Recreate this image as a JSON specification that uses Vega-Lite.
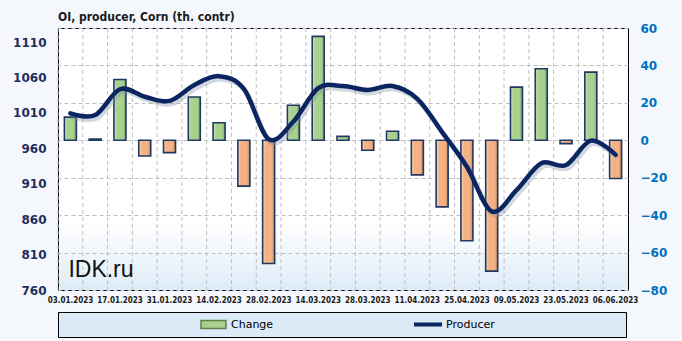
{
  "$schema": "https://vega.github.io/schema/vega-lite/v6.json",
  "width": 570,
  "height": 262,
  "autosize": {"type": "none"},
  "padding": {"left": 58, "top": 28, "right": 54, "bottom": 51},
  "background": "#F4F8FD",
  "title": {
    "text": "OI,  producer, Corn (th. contr)",
    "anchor": "start",
    "frame": "group",
    "font": "DejaVu Sans Condensed",
    "fontSize": 12,
    "fontWeight": "bold",
    "color": "#1a1a1a",
    "offset": -2
  },
  "data": {
    "values": [
      {"date": "03.01.2023", "change": 12.4, "producer": 1009.5},
      {"date": "10.01.2023", "change": 0.6, "producer": 1007},
      {"date": "17.01.2023", "change": 32.5, "producer": 1043.5},
      {"date": "24.01.2023", "change": -8.4, "producer": 1033},
      {"date": "31.01.2023", "change": -6.6, "producer": 1027},
      {"date": "07.02.2023", "change": 23.1, "producer": 1049.5},
      {"date": "14.02.2023", "change": 9.4, "producer": 1062},
      {"date": "21.02.2023", "change": -24.5, "producer": 1044},
      {"date": "28.02.2023", "change": -65.8, "producer": 973},
      {"date": "07.03.2023", "change": 18.7, "producer": 998},
      {"date": "14.03.2023", "change": 55.5, "producer": 1045},
      {"date": "21.03.2023", "change": 2.1, "producer": 1048},
      {"date": "28.03.2023", "change": -5.3, "producer": 1042.5},
      {"date": "04.04.2023", "change": 4.8, "producer": 1048},
      {"date": "11.04.2023", "change": -18.5, "producer": 1030},
      {"date": "18.04.2023", "change": -35.6, "producer": 983},
      {"date": "25.04.2023", "change": -53.7, "producer": 934},
      {"date": "02.05.2023", "change": -69.9, "producer": 871},
      {"date": "09.05.2023", "change": 28.4, "producer": 901},
      {"date": "16.05.2023", "change": 38.2, "producer": 939},
      {"date": "23.05.2023", "change": -1.8, "producer": 936.5},
      {"date": "30.05.2023", "change": 36.4, "producer": 971},
      {"date": "06.06.2023", "change": -20.4, "producer": 951}
    ]
  },
  "layer": [
    {
      "mark": {"type": "rule", "strokeDash": [4, 3], "color": "#BFBFBF", "strokeWidth": 1},
      "encoding": {
        "x": {
          "field": "date",
          "type": "nominal",
          "sort": null,
          "bandPosition": 0,
          "scale": {"paddingInner": 0, "paddingOuter": 0},
          "axis": {
            "title": null,
            "values": ["03.01.2023", "17.01.2023", "31.01.2023", "14.02.2023", "28.02.2023", "14.03.2023", "28.03.2023", "11.04.2023", "25.04.2023", "09.05.2023", "23.05.2023", "06.06.2023"],
            "labelAngle": 0,
            "ticks": false,
            "domain": false,
            "grid": false,
            "labelFont": "DejaVu Sans Condensed",
            "labelFontWeight": "bold",
            "labelFontSize": 8,
            "labelColor": "#1a1a1a",
            "labelPadding": 6,
            "labelOverlap": false,
            "labelBound": false
          }
        }
      }
    },
    {
      "layer": [
        {
          "mark": {"type": "bar", "size": 12, "stroke": "#1F3864", "strokeWidth": 1.6},
          "encoding": {
            "x": {"field": "date", "type": "nominal", "sort": null},
            "y": {
              "field": "change",
              "type": "quantitative",
              "scale": {"domain": [-80, 60], "nice": false, "zero": true},
              "axis": {
                "orient": "right",
                "title": null,
                "values": [-80, -60, -40, -20, 0, 20, 40, 60],
                "tickCount": 10,
                "format": "d",
                "labelOverlap": false,
                "ticks": false,
                "domain": false,
                "grid": true,
                "gridDash": [4, 3],
                "gridColor": "#BFBFBF",
                "labelFont": "DejaVu Sans",
                "labelFontWeight": "bold",
                "labelFontSize": 12,
                "labelColor": "#0070C0",
                "labelPadding": 12
              }
            },
            "fill": {
              "datum": "Change",
              "type": "nominal",
              "scale": {"domain": ["Change"], "range": ["#A9D18E"]},
              "condition": [
                {
                  "test": "datum.change < 0",
                  "value": {
                    "gradient": "linear", "x1": 0, "y1": 0, "x2": 1, "y2": 0,
                    "stops": [
                      {"offset": 0, "color": "#FDDCC4"},
                      {"offset": 0.25, "color": "#F4B183"},
                      {"offset": 0.75, "color": "#F4B183"},
                      {"offset": 1, "color": "#C4865A"}
                    ]
                  }
                },
                {
                  "test": "datum.change >= 0",
                  "value": {
                    "gradient": "linear", "x1": 0, "y1": 0, "x2": 1, "y2": 0,
                    "stops": [
                      {"offset": 0, "color": "#D3EAC3"},
                      {"offset": 0.25, "color": "#A9D18E"},
                      {"offset": 0.75, "color": "#A9D18E"},
                      {"offset": 1, "color": "#7AA261"}
                    ]
                  }
                }
              ],
              "legend": {
                "orient": "none",
                "legendX": 0,
                "legendY": 284,
                "title": "\u00a0",
                "titleOrient": "right",
                "titlePadding": 348,
                "titleFontSize": 11,
                "strokeColor": "#000000",
                "fillColor": "#DCEAF8",
                "padding": 5,
                "clipHeight": 15,
                "symbolType": "M-1,-0.32H1V0.32H-1Z",
                "symbolSize": 625,
                "symbolOffset": 137,
                "symbolStrokeColor": "#5E7F4A",
                "symbolStrokeWidth": 1.5,
                "labelOffset": 4,
                "labelFont": "DejaVu Sans",
                "labelFontSize": 11,
                "labelColor": "#000000"
              }
            }
          }
        },
        {
          "data": {"values": [{"mark_text": "IDK.ru"}]},
          "mark": {"type": "text", "align": "left", "baseline": "alphabetic", "font": "Liberation Sans", "fontSize": 23, "color": "#111111", "dx": -2},
          "encoding": {
            "x": {"datum": "03.01.2023", "type": "nominal"},
            "y": {"datum": -72.9, "type": "quantitative"},
            "text": {"field": "mark_text", "type": "nominal"}
          }
        }
      ]
    },
    {
      "layer": [
        {
          "mark": {"type": "line", "interpolate": "cardinal", "tension": 0, "strokeWidth": 5, "color": "#7F8FA6", "opacity": 0.35, "xOffset": 2, "yOffset": 3},
          "encoding": {
            "x": {"field": "date", "type": "nominal", "sort": null},
            "y": {
              "field": "producer",
              "type": "quantitative",
              "scale": {"domain": [760, 1130], "nice": false, "zero": false},
              "axis": {
                "orient": "left",
                "title": null,
                "values": [760, 810, 860, 910, 960, 1010, 1060, 1110],
                "tickCount": 10,
                "format": "d",
                "labelOverlap": false,
                "ticks": false,
                "domain": false,
                "grid": false,
                "labelFont": "DejaVu Sans",
                "labelFontWeight": "bold",
                "labelFontSize": 12,
                "labelColor": "#1F2D5C",
                "labelPadding": 12
              }
            }
          }
        },
        {
          "mark": {"type": "line", "interpolate": "cardinal", "tension": 0, "strokeWidth": 4.5, "strokeCap": "round"},
          "encoding": {
            "x": {"field": "date", "type": "nominal", "sort": null},
            "y": {"field": "producer", "type": "quantitative"},
            "stroke": {
              "datum": "Producer",
              "type": "nominal",
              "scale": {"domain": ["Producer"], "range": ["#0B2560"]},
              "legend": {
                "orient": "none",
                "legendX": 0,
                "legendY": 284,
                "title": null,
                "padding": 5,
                "clipHeight": 15,
                "symbolType": "stroke",
                "symbolSize": 784,
                "symbolStrokeWidth": 4,
                "symbolOffset": 349,
                "labelOffset": 2,
                "labelFont": "DejaVu Sans",
                "labelFontSize": 11,
                "labelColor": "#000000"
              }
            }
          }
        }
      ]
    }
  ],
  "resolve": {"scale": {"y": "independent"}},
  "config": {
    "view": {
      "stroke": "#000000",
      "strokeWidth": 1,
      "fill": {
        "gradient": "linear", "x1": 0, "y1": 0, "x2": 0, "y2": 1,
        "stops": [
          {"offset": 0, "color": "#FFFFFF"},
          {"offset": 0.75, "color": "#FFFFFF"},
          {"offset": 1, "color": "#DDEBF8"}
        ]
      }
    }
  }
}
